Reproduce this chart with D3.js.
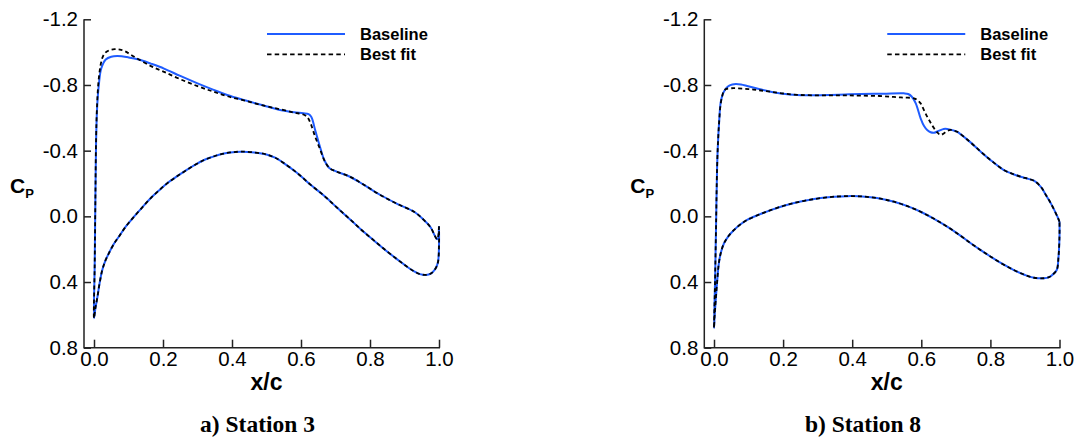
<!DOCTYPE html>
<html>
<head>
<meta charset="utf-8">
<script src="https://cdn.jsdelivr.net/npm/d3@7"></script>
<style>
  body { margin: 0; background: #fff; }
  text { font-family: "Liberation Sans", Arial, Helvetica, sans-serif; fill: #000; }
  .caption { font-family: "Liberation Serif", "Times New Roman", serif; font-weight: bold; }
</style>
</head>
<body>
<div id="chart"></div>
<script>
const xTicks = [0.0, 0.2, 0.4, 0.6, 0.8, 1.0];
const yTicks = [-1.2, -0.8, -0.4, 0.0, 0.4, 0.8];
const seriesNames = ["Baseline", "Best fit"];
const captions = ["a) Station 3", "b) Station 8"];

// [x/c, Cp], leading edge -> trailing edge
const st3BaselineUpper = [
  [0.000, 0.62], [0.002, 0.30], [0.004, -0.10], [0.006, -0.45], [0.009, -0.66], [0.014, -0.80],
  [0.021, -0.90], [0.034, -0.955], [0.050, -0.972], [0.068, -0.976], [0.100, -0.968], [0.130, -0.955],
  [0.165, -0.930], [0.203, -0.900], [0.250, -0.855], [0.300, -0.810], [0.345, -0.772], [0.386, -0.739],
  [0.440, -0.705], [0.493, -0.674], [0.539, -0.648], [0.580, -0.634], [0.607, -0.628], [0.622, -0.622],
  [0.630, -0.605], [0.641, -0.526], [0.655, -0.424], [0.668, -0.340], [0.682, -0.295], [0.700, -0.275],
  [0.742, -0.241], [0.780, -0.195], [0.830, -0.130], [0.880, -0.075], [0.930, -0.025], [0.955, 0.020],
  [0.975, 0.065], [0.995, 0.140], [1.000, 0.060]
];
const st3BestUpper = [
  [0.000, 0.62], [0.002, 0.30], [0.004, -0.10], [0.006, -0.47], [0.009, -0.68], [0.013, -0.82],
  [0.019, -0.92], [0.025, -0.97], [0.032, -0.995], [0.045, -1.012], [0.060, -1.018], [0.075, -1.016],
  [0.090, -1.005], [0.110, -0.980], [0.130, -0.955], [0.165, -0.915], [0.203, -0.880], [0.250, -0.835],
  [0.300, -0.793], [0.345, -0.760], [0.386, -0.732], [0.440, -0.703], [0.493, -0.674], [0.539, -0.652],
  [0.580, -0.632], [0.607, -0.620], [0.618, -0.605], [0.628, -0.565], [0.641, -0.485], [0.655, -0.410],
  [0.668, -0.340], [0.682, -0.295], [0.700, -0.275], [0.742, -0.241], [0.780, -0.195], [0.830, -0.130],
  [0.880, -0.075], [0.930, -0.025], [0.955, 0.020], [0.975, 0.065], [0.995, 0.140], [1.000, 0.060]
];
const st3Lower = [
  [0.000, 0.62], [0.004, 0.56], [0.010, 0.49], [0.016, 0.41], [0.024, 0.327], [0.033, 0.27],
  [0.043, 0.225], [0.057, 0.17], [0.072, 0.124], [0.093, 0.06], [0.116, 0.002], [0.140, -0.055],
  [0.164, -0.11], [0.188, -0.157], [0.212, -0.201], [0.236, -0.237], [0.261, -0.272], [0.290, -0.31],
  [0.319, -0.343], [0.343, -0.362], [0.367, -0.378], [0.395, -0.389], [0.425, -0.394], [0.465, -0.389],
  [0.500, -0.377], [0.525, -0.357], [0.551, -0.323], [0.589, -0.264], [0.628, -0.192], [0.667, -0.125],
  [0.705, -0.052], [0.744, 0.022], [0.778, 0.088], [0.812, 0.148], [0.845, 0.206], [0.879, 0.262],
  [0.905, 0.303], [0.928, 0.335], [0.945, 0.352], [0.961, 0.357], [0.972, 0.353], [0.980, 0.343],
  [0.990, 0.318], [0.997, 0.28], [1.000, 0.18], [1.000, 0.06]
];

const st8BaselineUpper = [
  [0.000, 0.68], [0.003, 0.40], [0.006, 0.05], [0.009, -0.30], [0.012, -0.47], [0.015, -0.58],
  [0.019, -0.69], [0.024, -0.735], [0.029, -0.76], [0.036, -0.782], [0.043, -0.795], [0.053, -0.803],
  [0.063, -0.806], [0.078, -0.803], [0.096, -0.794], [0.130, -0.775], [0.164, -0.759], [0.200, -0.746],
  [0.241, -0.739], [0.290, -0.737], [0.338, -0.739], [0.380, -0.742], [0.425, -0.745], [0.490, -0.747],
  [0.550, -0.749], [0.562, -0.745], [0.572, -0.73], [0.584, -0.688], [0.598, -0.597], [0.608, -0.55],
  [0.617, -0.526], [0.627, -0.512], [0.637, -0.509], [0.652, -0.522], [0.665, -0.532], [0.675, -0.532],
  [0.690, -0.525], [0.704, -0.515], [0.740, -0.455], [0.772, -0.394], [0.805, -0.335], [0.839, -0.282],
  [0.865, -0.258], [0.888, -0.241], [0.910, -0.228], [0.926, -0.217], [0.946, -0.18], [0.962, -0.125],
  [0.975, -0.079], [0.994, 0.002], [1.000, 0.033]
];
const st8BestUpper = [
  [0.000, 0.68], [0.003, 0.40], [0.006, 0.05], [0.009, -0.30], [0.012, -0.47], [0.015, -0.58],
  [0.019, -0.68], [0.024, -0.735], [0.029, -0.765], [0.036, -0.776], [0.050, -0.78], [0.067, -0.78],
  [0.100, -0.775], [0.130, -0.768], [0.164, -0.759], [0.200, -0.748], [0.241, -0.74], [0.290, -0.737],
  [0.338, -0.737], [0.380, -0.737], [0.425, -0.735], [0.478, -0.733], [0.520, -0.727], [0.550, -0.723],
  [0.579, -0.719], [0.590, -0.705], [0.598, -0.688], [0.607, -0.65], [0.617, -0.607], [0.627, -0.57],
  [0.637, -0.536], [0.647, -0.51], [0.656, -0.495], [0.665, -0.505], [0.675, -0.52], [0.685, -0.526],
  [0.694, -0.522], [0.704, -0.515], [0.740, -0.455], [0.772, -0.394], [0.805, -0.335], [0.839, -0.282],
  [0.865, -0.258], [0.888, -0.241], [0.910, -0.228], [0.926, -0.217], [0.946, -0.18], [0.962, -0.125],
  [0.975, -0.079], [0.994, 0.002], [1.000, 0.033]
];
const st8Lower = [
  [0.000, 0.68], [0.002, 0.60], [0.005, 0.51], [0.009, 0.40], [0.014, 0.286], [0.020, 0.22],
  [0.029, 0.164], [0.042, 0.12], [0.058, 0.083], [0.076, 0.05], [0.096, 0.022], [0.130, -0.01],
  [0.164, -0.038], [0.200, -0.063], [0.232, -0.081], [0.270, -0.098], [0.309, -0.111], [0.350, -0.12],
  [0.386, -0.123], [0.420, -0.122], [0.454, -0.116], [0.490, -0.104], [0.521, -0.089], [0.560, -0.062],
  [0.598, -0.028], [0.637, 0.015], [0.675, 0.063], [0.710, 0.113], [0.743, 0.164], [0.772, 0.206],
  [0.801, 0.246], [0.835, 0.29], [0.868, 0.327], [0.900, 0.357], [0.926, 0.374], [0.955, 0.377],
  [0.970, 0.37], [0.979, 0.357], [0.992, 0.327], [0.997, 0.25], [1.000, 0.12], [1.000, 0.033]
];

const blue = "#1f5cff";

const svg = d3.select('#chart')
  .append('svg')
  .attr('width', 1078)
  .attr('height', 439);

// closed loop: trailing edge (upper) -> leading edge -> trailing edge (lower)
function loop(upper, lower) {
  return upper.slice().reverse().concat(lower.slice(1));
}

function panel(axisX, x0, x1, capX, data) {
  const x = d3.scaleLinear().domain([0, 1]).range([x0, x1]);
  const y = d3.scaleLinear().domain([-1.2, 0.8]).range([19.3, 347.7]);
  const g = svg.append('g');

  const line = d3.line()
    .x(d => x(d[0]))
    .y(d => y(d[1]))
    .curve(d3.curveCatmullRom.alpha(0.5));

  g.append('path')
    .attr('d', line(loop(data.baseUpper, data.lower)))
    .attr('fill', 'none')
    .attr('stroke', blue)
    .attr('stroke-width', 2);

  g.append('path')
    .attr('d', line(loop(data.bestUpper, data.lower)))
    .attr('fill', 'none')
    .attr('stroke', '#000')
    .attr('stroke-width', 1.8)
    .attr('stroke-dasharray', '4,3');

  // axes
  const yAxis = g.append('g')
    .attr('transform', `translate(${axisX},0)`)
    .call(d3.axisLeft(y).tickValues(yTicks).tickSize(-7).tickSizeOuter(0).tickPadding(6)
      .tickFormat(d => d.toFixed(1)));
  const xAxis = g.append('g')
    .attr('transform', `translate(0,${y(0.8)})`)
    .call(d3.axisBottom(x).tickValues(xTicks).tickSize(-8).tickSizeOuter(0).tickPadding(4)
      .tickFormat(d => d.toFixed(1)));
  [yAxis, xAxis].forEach(a => {
    a.select('.domain').remove();
    a.selectAll('line').attr('stroke', '#222').attr('stroke-width', 1.5);
    a.selectAll('text').attr('font-size', 20.5).attr('fill', '#000')
      .style('font-family', '"Liberation Sans", Arial, sans-serif');
  });
  xAxis.selectAll('text').attr('dy', '0.71em');

  g.append('path')
    .attr('d', `M${axisX},${y(-1.2)}V${y(0.8)}H${x(1) + 1}`)
    .attr('fill', 'none')
    .attr('stroke', '#222')
    .attr('stroke-width', 1.5);

  // axis titles
  g.append('text')
    .attr('x', (x0 + x1) / 2)
    .attr('y', 390)
    .attr('text-anchor', 'middle')
    .attr('font-size', 23)
    .attr('font-weight', 'bold')
    .text('x/c');

  const cp = g.append('text')
    .attr('x', axisX - 74)
    .attr('y', 193)
    .attr('font-weight', 'bold');
  cp.append('tspan').attr('font-size', 21).text('C');
  cp.append('tspan').attr('font-size', 13).attr('dy', 5).text('P');

  // legend
  const lx = x(0.5) + 0.5;
  g.append('line')
    .attr('x1', lx).attr('x2', lx + 78)
    .attr('y1', 34).attr('y2', 34)
    .attr('stroke', blue).attr('stroke-width', 2);
  g.append('line')
    .attr('x1', lx).attr('x2', lx + 78)
    .attr('y1', 54.3).attr('y2', 54.3)
    .attr('stroke', '#000').attr('stroke-width', 1.8)
    .attr('stroke-dasharray', '4.5,3.2');
  seriesNames.forEach((name, i) => {
    g.append('text')
      .attr('x', lx + 93)
      .attr('y', 40 + i * 20)
      .attr('font-size', 16.5)
      .attr('font-weight', 'bold')
      .text(name);
  });

  g.append('text')
    .attr('class', 'caption')
    .attr('x', capX)
    .attr('y', 432)
    .attr('text-anchor', 'middle')
    .attr('font-size', 23.5)
    .text(data.caption);
}

panel(84, 94, 439, 257.5, {
  baseUpper: st3BaselineUpper, bestUpper: st3BestUpper, lower: st3Lower, caption: captions[0]
});
panel(704.3, 714, 1059.5, 863, {
  baseUpper: st8BaselineUpper, bestUpper: st8BestUpper, lower: st8Lower, caption: captions[1]
});
</script>
</body>
</html>
